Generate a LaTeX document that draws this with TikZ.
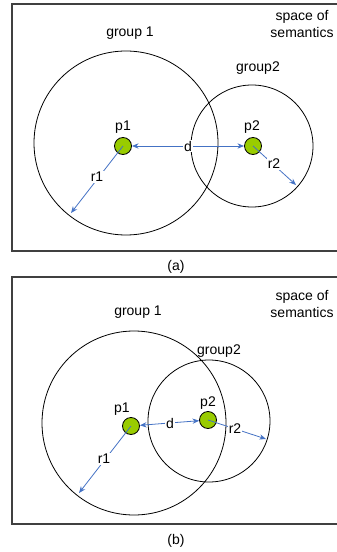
\documentclass[tikz,border=0pt]{standalone}
\usepackage{fontspec}
\setmainfont{Liberation Sans}
\usetikzlibrary{arrows.meta}
\definecolor{dotgreen}{HTML}{99CC00}
\definecolor{arrowblue}{HTML}{4472C4}
\newcommand{\seeddot}[3]{\node[dot] (#1) at (#2,#3) {};}

\begin{document}
\begin{tikzpicture}[x=0.75pt,y=-0.75pt,font=\fontsize{10.5}{12.75}\selectfont,
  frame/.style={draw=black!75,line width=0.9pt},
  group/.style={draw=black,line width=0.6pt},
  dot/.style={circle,draw=black,line width=0.6pt,fill=dotgreen,minimum size=12.75pt,inner sep=0pt},
  arr/.style={draw=arrowblue,line width=0.6pt,-{Stealth[length=5pt,width=4pt]}},
  lbl/.style={fill=white,inner sep=0.8pt}]
\useasboundingbox (0,0) rectangle (336,552);
% (a)
\draw[frame] (12,4) rectangle (340,251);
\draw[group] (126,143) circle[radius=92];
\draw[group] (252,146) circle[radius=61];
\node (ga1) at (130,33) {group 1};
\node (ga2) at (258,68) {group2};
\node[align=center] (spa) at (302,24.5) {space of\\semantics};
\seeddot{pa1}{123}{146}
\seeddot{pa2}{253}{146}
\coordinate (ra1) at (71,213);
\coordinate (ra2) at (296,185);
\draw[arr,{Stealth[length=5pt,width=4pt]}-{Stealth[length=5pt,width=4pt]}] (pa1) -- (pa2);
\draw[arr] (pa1.center) -- (ra1);
\draw[arr] (pa2.center) -- (ra2);
\node (la1) at (123,127) {p1};
\node (la2) at (252,127) {p2};
\node[lbl] (da) at (188,146) {d};
\node[lbl] (rla1) at (97,177) {r1};
\node[lbl] (rla2) at (274,164) {r2};
\node (capa) at (176,267) {(a)};
% (b)
\draw[frame] (12,277) rectangle (340,524);
\draw[group] (134,423) circle[radius=92];
\draw[group] (209,421) circle[radius=61];
\node (gb1) at (138,312) {group 1};
\node (gb2) at (219,351) {group2};
\node[align=center] (spb) at (302,303.5) {space of\\semantics};
\seeddot{pb1}{131}{426}
\seeddot{pb2}{208}{420}
\coordinate (rb1) at (79,493);
\coordinate (rb2) at (266,439);
\draw[arr,{Stealth[length=5pt,width=4pt]}-{Stealth[length=5pt,width=4pt]}] (pb1) -- (pb2);
\draw[arr] (pb1.center) -- (rb1);
\draw[arr] (pb2.center) -- (rb2);
\node (lb1) at (122,409) {p1};
\node (lb2) at (208,403) {p2};
\node[lbl] (db) at (170,423) {d};
\node[lbl] (rlb1) at (104,459) {r1};
\node[lbl] (rlb2) at (235,429) {r2};
\node (capb) at (176,541) {(b)};
\end{tikzpicture}
\end{document}
